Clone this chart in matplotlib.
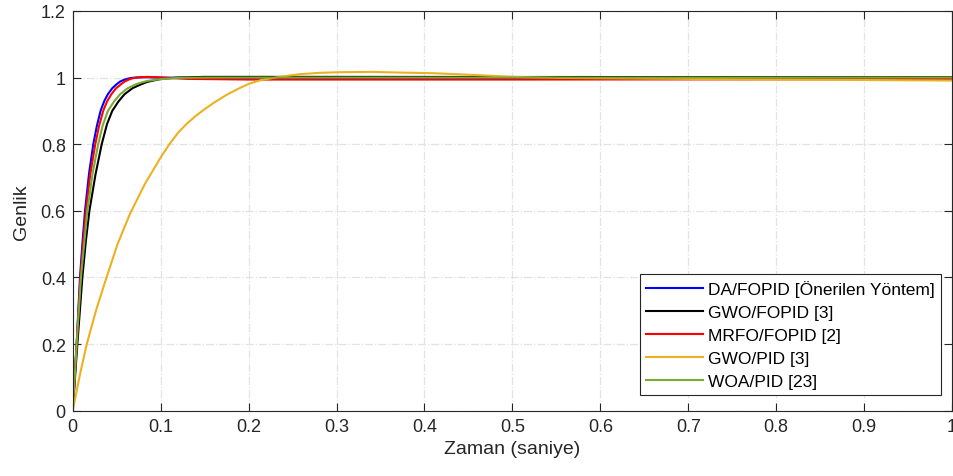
import numpy as np
import matplotlib
matplotlib.use("Agg")
from matplotlib import pyplot as plt

plt.rcParams["font.family"] = ["Liberation Sans", "DejaVu Sans"]

labels = ["DA/FOPID [Önerilen Yöntem]", "GWO/FOPID [3]", "MRFO/FOPID [2]",
          "GWO/PID [3]", "WOA/PID [23]"]
colors = ["#0000ff", "#000000", "#ff0000", "#edb120", "#77ac30"]

# step responses
t_da = [0, 0.0045, 0.0083, 0.011, 0.014, 0.0185, 0.0234, 0.0275, 0.0317, 0.036,
        0.040, 0.045, 0.050, 0.054, 0.058, 0.062, 0.067, 0.08, 0.1, 0.2, 0.5, 1.0]
y_da = [0, 0.2, 0.4, 0.5, 0.6, 0.71, 0.8, 0.855, 0.9, 0.93,
        0.95, 0.968, 0.98, 0.988, 0.993, 0.996, 0.999, 1.001, 1.0, 0.997, 0.996, 0.996]

t_gwo_fopid = [0, 0.0053, 0.011, 0.015, 0.019, 0.026, 0.033, 0.039, 0.045, 0.052,
               0.059, 0.068, 0.078, 0.085, 0.09, 0.099, 0.11, 0.12, 0.15, 0.3, 1.0]
y_gwo_fopid = [0, 0.2, 0.4, 0.51, 0.6, 0.71, 0.8, 0.86, 0.9, 0.928,
               0.95, 0.968, 0.98, 0.987, 0.99, 0.995, 0.998, 1.0, 1.002, 1.002, 1.001]

t_mrfo = [0, 0.0045, 0.0088, 0.0118, 0.015, 0.020, 0.0257, 0.030, 0.0347, 0.039,
          0.044, 0.049, 0.055, 0.059, 0.063, 0.067, 0.072, 0.085, 0.1, 0.13, 0.2, 0.5, 1.0]
y_mrfo = [0, 0.2, 0.4, 0.5, 0.6, 0.71, 0.8, 0.855, 0.9, 0.928,
          0.95, 0.967, 0.98, 0.988, 0.993, 0.997, 1.0, 1.002, 1.0, 0.996, 0.994, 0.994, 0.995]

t_gwo_pid = [0, 0.008, 0.016, 0.027, 0.0385, 0.051, 0.065, 0.082, 0.1, 0.11,
             0.12, 0.13, 0.14, 0.15, 0.162, 0.175, 0.188, 0.201, 0.215, 0.235,
             0.258, 0.28, 0.303, 0.34, 0.371, 0.41, 0.446, 0.5, 0.55, 0.6, 0.75, 1.0]
y_gwo_pid = [0, 0.105, 0.2, 0.305, 0.4, 0.5, 0.59, 0.68, 0.76, 0.8,
             0.835, 0.862, 0.885, 0.905, 0.927, 0.948, 0.966, 0.982, 0.993, 1.002,
             1.010, 1.014, 1.016, 1.017, 1.015, 1.013, 1.009, 1.002, 0.999, 0.998, 0.995, 0.991]

t_woa = [0, 0.0045, 0.0094, 0.013, 0.0166, 0.0225, 0.029, 0.034, 0.040, 0.047,
         0.054, 0.062, 0.072, 0.078, 0.085, 0.099, 0.11, 0.12, 0.15, 1.0]
y_woa = [0, 0.2, 0.4, 0.5, 0.6, 0.71, 0.8, 0.855, 0.9, 0.928,
         0.95, 0.967, 0.98, 0.985, 0.99, 0.995, 0.997, 0.999, 1.0, 1.0]

series = [(t_da, y_da), (t_gwo_fopid, y_gwo_fopid), (t_mrfo, y_mrfo),
          (t_gwo_pid, y_gwo_pid), (t_woa, y_woa)]

fig = plt.figure(figsize=(9.54, 4.77), dpi=100)
ax = fig.add_axes([0.0762, 0.137, 0.9218, 0.838])

for (t, y), c, lab in zip(series, colors, labels):
    ax.plot(t, y, color=c, lw=1.5, label=lab)

ax.set_xlim(0, 1)
ax.set_ylim(0, 1.2)
ax.set_xticks(np.arange(0, 1.01, 0.1))
ax.set_xticklabels(["0", "0.1", "0.2", "0.3", "0.4", "0.5", "0.6", "0.7", "0.8", "0.9", "1"])
ax.set_yticks(np.arange(0, 1.21, 0.2))
ax.set_yticklabels(["0", "0.2", "0.4", "0.6", "0.8", "1", "1.2"])

ax.grid(True, color="#e3e3e3", linestyle="-.", lw=0.9)
ax.tick_params(direction="in", top=True, right=True, length=6, width=0.8,
               labelsize=13, colors="#262626", pad=5)
for s in ax.spines.values():
    s.set_color("#262626")
    s.set_linewidth(0.8)

ax.set_xlabel("Zaman (saniye)", fontsize=14, color="#262626", labelpad=4)
ax.set_ylabel("Genlik", fontsize=14, color="#262626", labelpad=8)

leg = ax.legend(loc="lower right", bbox_to_anchor=(0.9875, 0.039), fontsize=12.5,
                fancybox=False, edgecolor="#262626", framealpha=1,
                handlelength=3.3, handletextpad=0.3, labelspacing=0.45,
                borderpad=0.35, borderaxespad=0)
leg.get_frame().set_linewidth(0.8)

fig.savefig("out.png", dpi=100)
